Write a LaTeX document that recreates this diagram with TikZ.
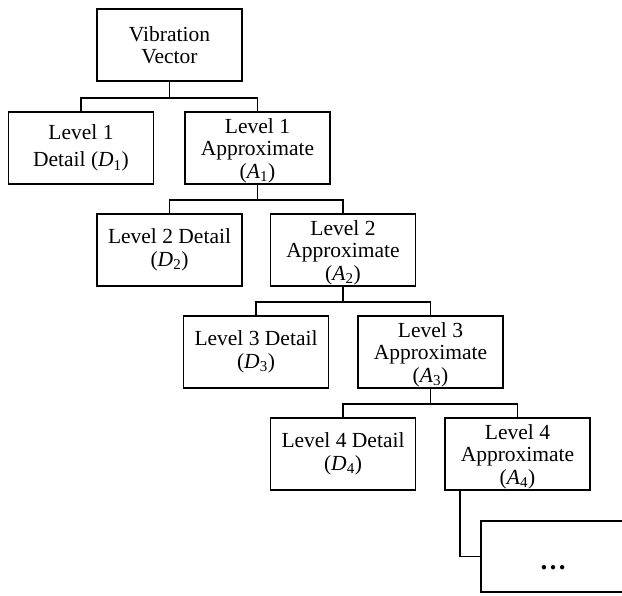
\documentclass[tikz,border=0pt]{standalone}
\usepackage{fontspec}
\setmainfont{Liberation Serif}
\newcommand{\firststrut}{\rule{0pt}{20pt}}
\begin{document}
\begin{tikzpicture}[x=1pt,y=-1pt,
  box/.style={draw, line width=1.8pt, minimum width=145pt, minimum height=72pt,
    inner sep=0pt, align=center, font=\fontsize{21.5}{22.5}\selectfont},
  link/.style={line width=1.8pt},
  dotstxt/.style={font=\fontsize{27}{28}\selectfont\bfseries, inner sep=0pt}]
\useasboundingbox (0,0) rectangle (622,596);
\node[box] (vv) at (169.5,45) {Vibration\\Vector};
\node[box] (d1) at (81,148) {Level 1\\[5pt]Detail (\textit{D}\textsubscript{1})};
\node[box] (a1) at (257.5,148) {\firststrut Level 1\\Approximate\\(\textit{A}\textsubscript{1})};
\node[box] (d2) at (169.5,250) {Level 2 Detail\\(\textit{D}\textsubscript{2})};
\node[box] (a2) at (343,250) {\firststrut Level 2\\Approximate\\(\textit{A}\textsubscript{2})};
\node[box] (d3) at (256,352) {Level 3 Detail\\(\textit{D}\textsubscript{3})};
\node[box] (a3) at (430.5,352) {\firststrut Level 3\\Approximate\\(\textit{A}\textsubscript{3})};
\node[box] (d4) at (343,454) {Level 4 Detail\\(\textit{D}\textsubscript{4})};
\node[box] (a4) at (517.5,454) {\firststrut Level 4\\Approximate\\(\textit{A}\textsubscript{4})};
\node[minimum width=141pt, minimum height=71pt, inner sep=0pt] (more) at (551.5,556.5) {};
\node[dotstxt] (dots) at (553,568) {…};
\draw[link] (more.north east) -- (more.north west) -- (more.south west) -- (more.south east);
% connectors
\draw[link] (vv.south) -- ++(0,16) coordinate (b0);
\draw[link] (d1.north) |- (b0) -| (a1.north);
\draw[link] (a1.south) -- ++(0,15) coordinate (b1);
\draw[link] (d2.north) |- (b1) -| (a2.north);
\draw[link] (a2.south) -- ++(0,15) coordinate (b2);
\draw[link] (d3.north) |- (b2) -| (a3.north);
\draw[link] (a3.south) -- ++(0,15) coordinate (b3);
\draw[link] (d4.north) |- (b3) -| (a4.north);
\coordinate (c4) at ([xshift=16pt]a4.south west);
\draw[link] (c4) |- (more.west);
\end{tikzpicture}
\end{document}
